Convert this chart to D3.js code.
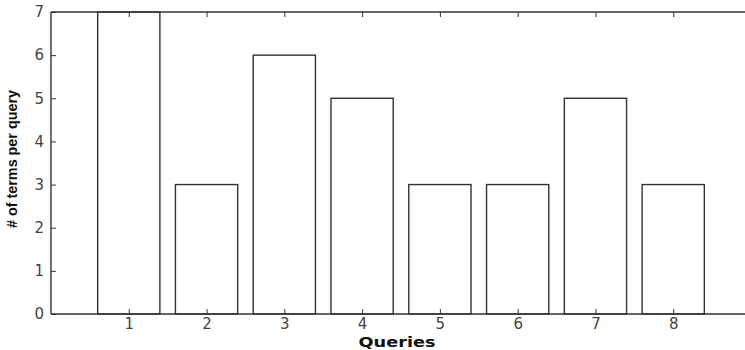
<!DOCTYPE html>
<html>
<head>
<meta charset="utf-8">
<script src="https://cdn.jsdelivr.net/npm/d3@7"></script>
<style>
  body { margin: 0; background: #fff; }
  text { font-family: "DejaVu Sans", Verdana, sans-serif; }
</style>
</head>
<body>
<div id="chart"></div>
<script>
var queries = [1, 2, 3, 4, 5, 6, 7, 8],
  terms = [7, 3, 6, 5, 3, 3, 5, 3],
  yTicks = [0, 1, 2, 3, 4, 5, 6, 7];

var
  width = 745, height = 350,
  margin = { top: 12, right: -6, bottom: 36, left: 51 },
  barWidth = 0.8,
  ink = '#333';

var svg = d3.select('#chart').append('svg')
  .attr('width', width)
  .attr('height', height);

var x = d3.scaleLinear().domain([0, 9]).range([margin.left, width - margin.right]),
  y = d3.scaleLinear().domain([0, 7]).range([height - margin.bottom, margin.top]);

// bars
svg.append('g').selectAll('rect')
  .data(queries)
  .enter()
  .append('rect')
    .attr('x', function(d) { return x(d - barWidth / 2); })
    .attr('width', function() { return x(barWidth) - x(0); })
    .attr('y', function(d, i) { return y(terms[i]); })
    .attr('height', function(d, i) { return y(0) - y(terms[i]); })
    .attr('fill', '#fff')
    .attr('stroke', ink)
    .attr('stroke-width', 1.4);

// box
var box = svg.append('g').attr('stroke', ink).attr('stroke-width', 1.4).attr('fill', 'none');
box.append('line').attr('x1', x(0)).attr('x2', x(9)).attr('y1', y(0)).attr('y2', y(0));
box.append('line').attr('x1', x(0)).attr('x2', x(9)).attr('y1', y(7)).attr('y2', y(7));
box.append('line').attr('x1', x(0)).attr('x2', x(0)).attr('y1', y(0)).attr('y2', y(7));
box.append('line').attr('x1', x(9)).attr('x2', x(9)).attr('y1', y(0)).attr('y2', y(7));

// axes, matlab style: ticks point inward
var tickStyle = function(g) {
  g.select('.domain').remove();
  g.selectAll('.tick line').attr('stroke', ink).attr('stroke-width', 1);
  g.selectAll('.tick text').attr('fill', '#444').attr('font-size', 15)
    .style('font-family', '"DejaVu Sans", Verdana, sans-serif');
};

svg.append('g').attr('transform', 'translate(0,' + y(0) + ')')
  .call(d3.axisBottom(x).tickValues(queries).tickSize(-5).tickPadding(4).tickFormat(d3.format('d')))
  .call(tickStyle);
svg.append('g').attr('transform', 'translate(0,' + y(7) + ')')
  .call(d3.axisTop(x).tickValues(queries).tickSize(-5).tickFormat(''))
  .call(tickStyle);
svg.append('g').attr('transform', 'translate(' + x(0) + ',0)')
  .call(d3.axisLeft(y).tickValues(yTicks).tickSize(-5).tickPadding(7).tickFormat(d3.format('d')))
  .call(tickStyle);
svg.append('g').attr('transform', 'translate(' + x(9) + ',0)')
  .call(d3.axisRight(y).tickValues(yTicks).tickSize(-5).tickFormat(''))
  .call(tickStyle);

// labels
svg.append('text')
  .attr('x', 397)
  .attr('y', 347)
  .attr('text-anchor', 'middle')
  .attr('font-size', 14)
  .attr('font-weight', 'bold')
  .attr('fill', '#111')
  .attr('textLength', 77)
  .attr('lengthAdjust', 'spacingAndGlyphs')
  .text('Queries');

svg.append('text')
  .attr('transform', 'translate(17,' + 159 + ') rotate(-90)')
  .attr('text-anchor', 'middle')
  .attr('font-size', 14)
  .attr('font-weight', 'bold')
  .attr('fill', '#111')
  .attr('textLength', 138)
  .attr('lengthAdjust', 'spacingAndGlyphs')
  .style('font-family', '"Liberation Sans Narrow", "Liberation Sans", Arial, sans-serif')
  .text('# of terms per query');
</script>
</body>
</html>
